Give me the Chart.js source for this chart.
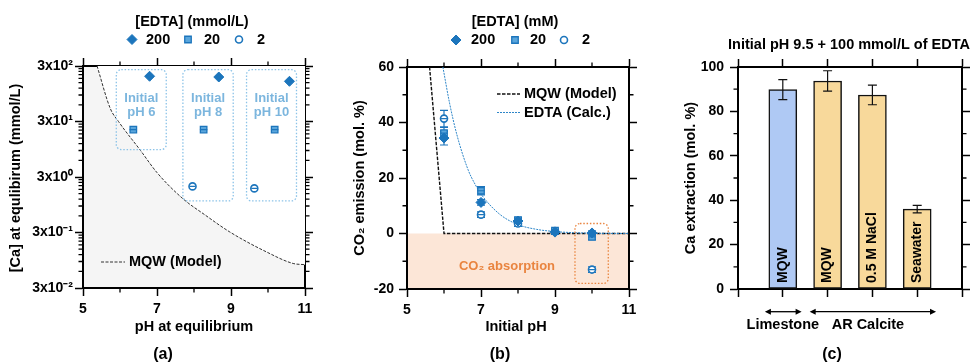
<!DOCTYPE html>
<html>
<head>
<meta charset="utf-8">
<script src="https://cdn.jsdelivr.net/npm/chart.js@4.4.1/dist/chart.umd.min.js"></script>
<style>
  body { margin: 0; background: #fff; width: 972px; height: 364px; position: relative; overflow: hidden; }
  canvas { position: absolute; top: 0; }
</style>
</head>
<body>
<canvas id="chartA" width="330" height="364" style="left:0px"></canvas>
<canvas id="chartB" width="320" height="364" style="left:330px"></canvas>
<canvas id="chartC" width="322" height="364" style="left:650px"></canvas>
<script>
// ---- (a) [Ca] at equilibrium vs pH at equilibrium
const mqwPhA = [5.38, 5.74, 5.96, 6.55, 7.0, 7.70, 8.3, 8.97, 9.96, 10.68, 11.0];
const mqwCaA = [300, 51, 30, 9.1, 3.6, 1.22, 0.62, 0.306, 0.134, 0.083, 0.079];
const phA200 = [6.8, 8.67, 10.58];
const caA200 = [196, 190, 159];
const phA20 = [6.36, 8.26, 10.18];
const caA20 = [21.5, 21.5, 21.5];
const phA2 = [7.96, 9.63];
const caA2 = [2.03, 1.87];
const yTickValsA = [0.03, 0.3, 3, 30, 300];
const yTickLabelsA = ['3x10⁻²', '3x10⁻¹', '3x10⁰', '3x10¹', '3x10²'];

// ---- (b) CO2 emission vs initial pH
const mqwPhB = [5.61, 6.0, 11];
const mqwB = [60, 0, 0];
const edtaPhB = [5.97, 6.15, 6.35, 6.65, 6.85, 7.0, 7.5, 8.0, 8.5, 9.0, 9.5, 10.0, 11.0];
const edtaB = [60, 47, 35.5, 23, 17.5, 14.2, 7.0, 3.2, 1.5, 0.7, 0.3, 0.1, 0];
const phB = [6, 7, 8, 9, 10];
const emB200 = [34.4, 11.2, 4.5, 0.5, 0.2];
const errB200 = [2.5, 1.0, 1.0, 0.8, 0.8];
const emB20 = [36.2, 15.4, 4.8, 1.0, -1.2];
const errB20 = [2.0, 1.5, 1.0, 0.5, 1.0];
const emB2 = [41.4, 6.8, 3.6, 0.9, -13.0];
const errB2 = [3.0, 1.0, 1.0, 0.5, 1.0];

// ---- (c) Ca extraction
const barNames = ['MQW', 'MQW', '0.5 M NaCl', 'Seawater'];
const barPos = [1, 2, 3, 4];
const barVals = [89.8, 93.7, 87.4, 36.0];
const barErr = [4.5, 4.6, 4.4, 1.7];
const groupNames = ['Limestone', 'AR Calcite'];

const FONT = "'Liberation Sans', Arial, Helvetica, sans-serif";
const BLUE = '#1c75bc';
const BLUE_MID = '#5aa6dc';
const BOX_BLUE = '#8cc3e8';
const ORANGE = '#e9843f';

Chart.defaults.font.family = FONT;
Chart.defaults.font.weight = 'bold';
Chart.defaults.font.size = 14;
Chart.defaults.color = '#000';
Chart.defaults.animation = false;
Chart.defaults.plugins.legend.display = false;
Chart.defaults.plugins.tooltip.enabled = false;

const zip = (xs, ys) => xs.map((x, i) => ({ x, y: ys[i] }));

// one frame axis; the size fixes where the plot area ends up
function frameAxis(position, size, type, range, tickOpts, extra) {
  return Object.assign({
    type, position, min: range[0], max: range[1], offset: false,
    border: { color: '#000', width: 2 },
    grid: { drawOnChartArea: false, tickLength: 8, tickWidth: 1.5, tickColor: '#000', offset: false },
    ticks: Object.assign({ color: '#000', font: { size: 14, weight: 'bold' }, padding: 4, autoSkip: false, maxRotation: 0 }, tickOpts),
    afterFit(s) { if (s.isHorizontal()) s.height = size; else s.width = size; }
  }, extra || {});
}

function text(ctx, t) {
  ctx.save();
  ctx.font = `${t.weight || 'bold'} ${t.size || 14.5}px ${FONT}`;
  ctx.fillStyle = t.color || '#000';
  ctx.textAlign = t.align || 'center';
  ctx.textBaseline = 'middle';
  ctx.translate(t.x, t.y);
  if (t.rot) ctx.rotate(t.rot);
  ctx.fillText(t.text, 0, 0);
  ctx.restore();
}

function marker(ctx, ds, x, y) {
  ctx.save();
  ctx.fillStyle = ds.backgroundColor;
  ctx.strokeStyle = ds.borderColor;
  ctx.lineWidth = ds.borderWidth;
  Chart.helpers.drawPoint(ctx, { pointStyle: ds.pointStyle, radius: ds.pointRadius, rotation: 0, borderWidth: ds.borderWidth }, x, y);
  ctx.restore();
}

function drawErr(chart, which) {
  const ctx = chart.ctx;
  chart.data.datasets.forEach((ds, di) => {
    const meta = chart.getDatasetMeta(di);
    const xs = chart.scales[meta.xAxisID], ys = chart.scales[meta.yAxisID];
    if (which === 'y' && !ds.errY) return;
    if (which === 'x' && !ds.errX) return;
    ctx.save();
    ctx.strokeStyle = ds.errColor || ds.borderColor;
    ctx.lineWidth = 1.2;
    ctx.beginPath();
    ds.data.forEach((p, i) => {
      if (which === 'y') {
        const e = ds.errY[i], px = xs.getPixelForValue(p.x), c = ds.errCap || 4;
        const y1 = ys.getPixelForValue(p.y - e), y2 = ys.getPixelForValue(p.y + e);
        ctx.moveTo(px, y1); ctx.lineTo(px, y2);
        ctx.moveTo(px - c, y1); ctx.lineTo(px + c, y1);
        ctx.moveTo(px - c, y2); ctx.lineTo(px + c, y2);
      } else {
        const py = ys.getPixelForValue(p.y);
        ctx.moveTo(xs.getPixelForValue(p.x - ds.errX), py);
        ctx.lineTo(xs.getPixelForValue(p.x + ds.errX), py);
      }
    });
    ctx.stroke();
    ctx.restore();
  });
}

function makeDecor(cfg) {
  return {
    id: 'decor' + cfg.name,
    beforeDraw(chart) {
      const { ctx, chartArea: a, scales } = chart;
      if (cfg.plotBg) {
        ctx.fillStyle = cfg.plotBg;
        ctx.fillRect(a.left, a.top, a.right - a.left, a.bottom - a.top);
      }
      if (cfg.band) {
        const y1 = scales.y.getPixelForValue(cfg.band.from), y2 = scales.y.getPixelForValue(cfg.band.to);
        ctx.fillStyle = cfg.band.color;
        ctx.fillRect(a.left, Math.min(y1, y2), a.right - a.left, Math.abs(y2 - y1));
      }
    },
    beforeDatasetsDraw(chart) {
      if (cfg.errBehind) drawErr(chart, 'y');
    },
    afterDatasetsDraw(chart) {
      const { ctx, scales } = chart;
      if (!cfg.errBehind) drawErr(chart, 'y');
      drawErr(chart, 'x');
      (cfg.boxes || []).forEach(b => {
        const l = scales.x.getPixelForValue(b.x0), r = scales.x.getPixelForValue(b.x1);
        const t = scales.y.getPixelForValue(b.y1), btm = scales.y.getPixelForValue(b.y0);
        ctx.save();
        ctx.strokeStyle = b.color;
        ctx.lineWidth = 1.3;
        ctx.setLineDash([1.5, 1.8]);
        ctx.beginPath();
        ctx.roundRect(l, t, r - l, btm - t, 5);
        ctx.stroke();
        ctx.restore();
        (b.lines || []).forEach((s, i) => text(ctx, { text: s, x: (l + r) / 2, y: t + 29 + i * 14, color: b.textColor, size: 13 }));
      });
      if (cfg.barText) {
        const meta = chart.getDatasetMeta(0), y0 = scales.y.getPixelForValue(0);
        meta.data.forEach((bar, i) => text(ctx, { text: cfg.barText[i], x: bar.x, y: y0 - 6, rot: -Math.PI / 2, align: 'left', size: 14 }));
      }
    },
    afterDraw(chart) {
      const { ctx, chartArea: a, scales } = chart;
      const len = 4.5;
      ctx.save();
      ctx.strokeStyle = '#000';
      ctx.lineWidth = 1.3;
      ctx.beginPath();
      (cfg.minorX || []).forEach(v => {
        const px = scales.x.getPixelForValue(v);
        ctx.moveTo(px, a.bottom); ctx.lineTo(px, a.bottom + len);
        ctx.moveTo(px, a.top); ctx.lineTo(px, a.top - len);
      });
      (cfg.minorY || []).forEach(v => {
        const py = scales.y.getPixelForValue(v);
        ctx.moveTo(a.left, py); ctx.lineTo(a.left - len, py);
        ctx.moveTo(a.right, py); ctx.lineTo(a.right + len, py);
      });
      ctx.stroke();
      ctx.restore();

      if (cfg.legend) {
        const lg = cfg.legend;
        text(ctx, { text: lg.title, x: lg.titleX, y: lg.titleY });
        lg.items.forEach(it => {
          const ds = chart.data.datasets[it.ds];
          marker(ctx, ds, it.mx, lg.y);
          text(ctx, { text: ds.label, x: it.tx, y: lg.y, align: 'left' });
        });
      }
      (cfg.keys || []).forEach(k => {
        const ds = chart.data.datasets[k.ds];
        ctx.save();
        ctx.strokeStyle = ds.borderColor;
        ctx.lineWidth = ds.borderWidth;
        ctx.setLineDash(ds.borderDash || []);
        ctx.beginPath(); ctx.moveTo(k.x1, k.y); ctx.lineTo(k.x2, k.y); ctx.stroke();
        ctx.restore();
        text(ctx, { text: ds.label, x: k.x2 + 4, y: k.y, align: 'left' });
      });
      if (cfg.groups) {
        cfg.groups.forEach(g => {
          const x1 = scales.x.getPixelForValue(g.from), x2 = scales.x.getPixelForValue(g.to);
          ctx.save();
          ctx.strokeStyle = '#000'; ctx.fillStyle = '#000'; ctx.lineWidth = 1.3;
          ctx.beginPath(); ctx.moveTo(x1 + 3, g.y); ctx.lineTo(x2 - 3, g.y); ctx.stroke();
          ctx.beginPath();
          ctx.moveTo(x1, g.y); ctx.lineTo(x1 + 6, g.y - 3); ctx.lineTo(x1 + 6, g.y + 3); ctx.closePath();
          ctx.moveTo(x2, g.y); ctx.lineTo(x2 - 6, g.y - 3); ctx.lineTo(x2 - 6, g.y + 3); ctx.closePath();
          ctx.fill();
          ctx.restore();
          text(ctx, { text: g.label, x: scales.x.getPixelForValue(g.labelX), y: g.labelY });
        });
      }
      (cfg.texts || []).forEach(t => text(ctx, t));
    }
  };
}

// minor ticks of the log axis: 2..9 times each 3x10^n
const minorLogA = [];
for (let i = 0; i < yTickValsA.length - 1; i++) {
  for (let k = 2; k <= 9; k++) minorLogA.push(yTickValsA[i] * k);
}

function logAxis(position, size, showLabels) {
  return frameAxis(position, size, 'logarithmic', [0.03, 300],
    { display: showLabels, padding: 2, callback: (v, i) => yTickLabelsA[i] },
    { afterBuildTicks(s) { s.ticks = yTickValsA.map(v => ({ value: v })); } });
}

// ---------- (a)
new Chart(document.getElementById('chartA'), {
  type: 'scatter',
  data: {
    datasets: [
      { type: 'line', label: 'MQW (Model)', order: 10, data: zip(mqwPhA, mqwCaA), borderColor: '#333', borderWidth: 1,
        borderDash: [3, 1.5], pointRadius: 0, fill: 'end', backgroundColor: '#ffffff', cubicInterpolationMode: 'monotone' },
      { label: '200', order: 1, data: zip(phA200, caA200), pointStyle: 'rectRot', pointRadius: 5, backgroundColor: BLUE, borderColor: BLUE, borderWidth: 1 },
      { label: '20', order: 1, data: zip(phA20, caA20), pointStyle: 'rect', pointRadius: 4.6, backgroundColor: BLUE_MID, borderColor: BLUE, borderWidth: 1.3, errX: 0.1 },
      { label: '2', order: 1, data: zip(phA2, caA2), pointStyle: 'circle', pointRadius: 3.5, backgroundColor: '#fff', borderColor: BLUE, borderWidth: 1.6, errX: 0.08 }
    ]
  },
  options: {
    responsive: false,
    layout: { padding: 0 },
    scales: {
      x: frameAxis('bottom', 76, 'linear', [5, 11], { stepSize: 2, padding: 5 }),
      x2: frameAxis('top', 66, 'linear', [5, 11], { stepSize: 2, display: false }),
      y: logAxis('left', 83, true),
      y2: logAxis('right', 25, false)
    }
  },
  plugins: [makeDecor({
    name: 'A',
    plotBg: '#f5f5f5',
    minorX: [6, 8, 10],
    minorY: minorLogA,
    boxes: [
      { x0: 5.9, x1: 7.25, y0: 9.35, y1: 258, color: BOX_BLUE, textColor: '#7cb6de', lines: ['Initial', 'pH 6'] },
      { x0: 7.70, x1: 9.06, y0: 1.11, y1: 258, color: BOX_BLUE, textColor: '#7cb6de', lines: ['Initial', 'pH 8'] },
      { x0: 9.42, x1: 10.77, y0: 1.11, y1: 258, color: BOX_BLUE, textColor: '#7cb6de', lines: ['Initial', 'pH 10'] }
    ],
    legend: { title: '[EDTA] (mmol/L)', titleX: 192, titleY: 22, y: 39.5,
      items: [{ ds: 1, mx: 132, tx: 146 }, { ds: 2, mx: 188, tx: 204 }, { ds: 3, mx: 239, tx: 257 }] },
    keys: [{ ds: 0, x1: 101, x2: 125, y: 262 }],
    texts: [
      { text: '[Ca] at equlibirum (mmol/L)', x: 16, y: 178, rot: -Math.PI / 2 },
      { text: 'pH at equilibrium', x: 194, y: 327 },
      { text: '(a)', x: 163, y: 355, size: 16 }
    ]
  })]
});

// ---------- (b)
new Chart(document.getElementById('chartB'), {
  type: 'scatter',
  data: {
    datasets: [
      { type: 'line', label: 'MQW (Model)', order: 10, data: zip(mqwPhB, mqwB), borderColor: '#111', borderWidth: 1.4,
        borderDash: [3.5, 1.5], pointRadius: 0, fill: false },
      { type: 'line', label: 'EDTA (Calc.)', order: 9, data: zip(edtaPhB, edtaB), borderColor: '#2e86c8', borderWidth: 1,
        borderDash: [2, 1], pointRadius: 0, fill: false, cubicInterpolationMode: 'monotone' },
      { label: '200', order: 1, data: zip(phB, emB200), pointStyle: 'rectRot', pointRadius: 5, backgroundColor: BLUE, borderColor: BLUE, borderWidth: 1, errY: errB200, errCap: 4 },
      { label: '20', order: 1, data: zip(phB, emB20), pointStyle: 'rect', pointRadius: 4.6, backgroundColor: BLUE_MID, borderColor: BLUE, borderWidth: 1.3, errY: errB20, errCap: 4, errX: 0.1 },
      { label: '2', order: 1, data: zip(phB, emB2), pointStyle: 'circle', pointRadius: 3.5, backgroundColor: '#fff', borderColor: BLUE, borderWidth: 1.6, errY: errB2, errCap: 4, errX: 0.08 }
    ]
  },
  options: {
    responsive: false,
    layout: { padding: 0 },
    scales: {
      x: frameAxis('bottom', 75, 'linear', [5, 11], { stepSize: 2, padding: 5 }),
      x2: frameAxis('top', 67, 'linear', [5, 11], { stepSize: 2, display: false }),
      y: frameAxis('left', 77, 'linear', [-20, 60], { stepSize: 20, padding: 5 }),
      y2: frameAxis('right', 21, 'linear', [-20, 60], { stepSize: 20, display: false })
    }
  },
  plugins: [makeDecor({
    name: 'B',
    band: { from: 0, to: -20, color: '#fce6d7' },
    errBehind: true,
    minorX: [6, 8, 10],
    minorY: [-10, 10, 30, 50],
    boxes: [{ x0: 9.54, x1: 10.44, y0: -18, y1: 3.6, color: ORANGE }],
    legend: { title: '[EDTA] (mM)', titleX: 185, titleY: 22, y: 40,
      items: [{ ds: 2, mx: 126, tx: 141 }, { ds: 3, mx: 185, tx: 200 }, { ds: 4, mx: 234, tx: 252 }] },
    keys: [{ ds: 0, x1: 167, x2: 190, y: 94 }, { ds: 1, x1: 167, x2: 190, y: 112.5 }],
    texts: [
      { text: 'CO₂ emission (mol. %)', x: 30, y: 178, rot: -Math.PI / 2 },
      { text: 'Initial pH', x: 186, y: 327 },
      { text: '(b)', x: 170, y: 355, size: 16 },
      { text: 'CO₂ absorption', x: 177, y: 266, color: ORANGE, size: 13 }
    ]
  })]
});

// ---------- (c)
new Chart(document.getElementById('chartC'), {
  type: 'bar',
  data: {
    datasets: [{
      label: 'Ca extraction',
      data: zip(barPos, barVals),
      backgroundColor: ['#afc9f4', '#f8d99b', '#f8d99b', '#f8d99b'],
      borderColor: '#111', borderWidth: 1.5, borderSkipped: false,
      barThickness: 28,
      errY: barErr, errCap: 4.5, errColor: '#111'
    }]
  },
  options: {
    responsive: false,
    layout: { padding: 0 },
    scales: {
      x: frameAxis('bottom', 75, 'linear', [0, 5], { stepSize: 1, display: false }),
      x2: frameAxis('top', 67, 'linear', [0, 5], { stepSize: 1, display: false }),
      y: frameAxis('left', 88, 'linear', [0, 100], { stepSize: 20, padding: 6 }),
      y2: frameAxis('right', 10, 'linear', [0, 100], { stepSize: 20, display: false })
    }
  },
  plugins: [makeDecor({
    name: 'C',
    minorY: [10, 30, 50, 70, 90],
    barText: barNames,
    groups: [
      { label: groupNames[0], from: 0.6, to: 1.42, y: 311.7, labelY: 324.5, labelX: 1.0 },
      { label: groupNames[1], from: 1.6, to: 4.42, y: 311.7, labelY: 324.5, labelX: 2.9 }
    ],
    texts: [
      { text: 'Initial pH 9.5 + 100 mmol/L of EDTA', x: 199, y: 45, size: 14.5 },
      { text: 'Ca extraction (mol. %)', x: 41, y: 178, rot: -Math.PI / 2 },
      { text: '(c)', x: 182, y: 355, size: 16 }
    ]
  })]
});
</script>
</body>
</html>
